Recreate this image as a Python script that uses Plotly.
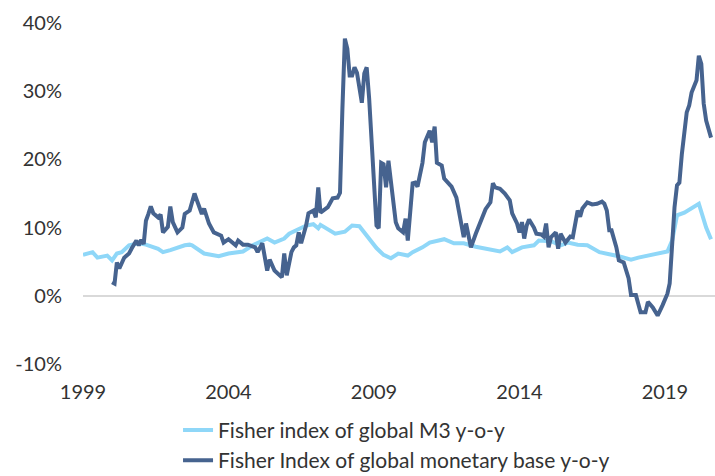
import plotly.graph_objects as go

# Fisher index of global M3 y-o-y (%)
m3_dates = ["1999-01","1999-05","1999-07","1999-11","2000-01","2000-03","2000-05","2000-08","2000-12",
    "2001-03","2001-08","2001-10","2002-01","2002-05","2002-07","2002-09","2002-10","2003-03","2003-09",
    "2004-01","2004-07","2004-11","2005-05","2005-08","2005-12","2006-02","2006-04","2006-09","2006-12",
    "2007-02","2007-03","2007-09","2008-01","2008-04","2008-07","2008-11","2009-02","2009-05","2009-08",
    "2009-11","2010-03","2010-05","2010-09","2010-12","2011-06","2011-10","2012-02","2012-07","2013-02",
    "2013-05","2013-08","2013-10","2014-02","2014-07","2014-09","2015-02","2015-06","2015-09","2016-01",
    "2016-05","2016-10","2016-12","2017-02","2017-06","2017-11","2018-02","2018-06","2018-10","2019-02",
    "2019-04","2019-06","2019-09","2019-12","2020-03","2020-06","2020-07","2020-08"]
m3_values = [6.0,6.4,5.6,5.9,5.2,6.2,6.4,7.4,7.7,
    7.5,6.9,6.4,6.7,7.2,7.4,7.5,7.4,6.2,5.8,
    6.2,6.5,7.4,8.4,7.8,8.4,9.1,9.4,10.3,10.5,
    9.9,10.4,9.1,9.4,10.3,10.2,8.4,7.0,6.0,5.5,
    6.2,5.9,6.4,7.1,7.8,8.3,7.7,7.7,7.2,6.7,
    6.5,7.1,6.4,7.1,7.4,8.1,8.0,7.4,7.8,7.5,
    7.4,6.4,6.2,6.1,5.8,5.3,5.6,5.9,6.2,6.5,
    8.1,11.8,12.2,12.8,13.5,10.0,9.1,8.3]

# Fisher Index of global monetary base y-o-y (%)
mb_dates = ["2000-01","2000-02","2000-03","2000-04","2000-06","2000-08","2000-09","2000-11","2000-12",
    "2001-01","2001-02","2001-03","2001-04","2001-05","2001-06","2001-08","2001-09","2001-10","2001-12",
    "2002-01","2002-02","2002-04","2002-06","2002-07","2002-09","2002-11","2002-12","2003-02","2003-03",
    "2003-05","2003-07","2003-10","2003-11","2004-01","2004-04","2004-05","2004-07","2004-09","2004-12",
    "2005-01","2005-03","2005-05","2005-06","2005-08","2005-11","2005-12","2006-01","2006-03","2006-04",
    "2006-05","2006-06","2006-07","2006-09","2006-10","2006-12","2007-01","2007-02","2007-03","2007-06",
    "2007-08","2007-10","2007-11","2007-12","2008-01","2008-02","2008-03","2008-04","2008-05","2008-06",
    "2008-08","2008-09","2008-10","2008-11","2009-01","2009-02","2009-03","2009-04","2009-05","2009-06",
    "2009-07","2009-08","2009-10","2009-11","2010-01","2010-02","2010-03","2010-05","2010-06","2010-07",
    "2010-09","2010-10","2010-11","2010-12","2011-01","2011-02","2011-03","2011-05","2011-06","2011-09",
    "2011-11","2011-12","2012-02","2012-03","2012-04","2012-05","2012-07","2012-09","2012-11","2013-01",
    "2013-02","2013-03","2013-05","2013-07","2013-09","2013-10","2013-12","2014-01","2014-02","2014-03",
    "2014-04","2014-05","2014-07","2014-08","2014-10","2014-11","2014-12","2015-01","2015-02","2015-04",
    "2015-05","2015-06","2015-08","2015-10","2015-11","2016-01","2016-02","2016-03","2016-05","2016-07",
    "2016-09","2016-11","2016-12","2017-01","2017-02","2017-03","2017-05","2017-06","2017-08","2017-10",
    "2017-11","2018-01","2018-03","2018-05","2018-06","2018-08","2018-10","2018-12","2019-02","2019-03",
    "2019-04","2019-05","2019-06","2019-07","2019-08","2019-10","2019-11","2019-12","2020-02","2020-03",
    "2020-04","2020-05","2020-06","2020-08"]
mb_values = [2.0,1.8,4.9,4.0,5.6,6.2,6.9,8.1,7.4,
    8.2,7.6,11.0,12.0,13.1,12.1,11.5,11.9,9.3,10.1,
    13.1,10.8,9.3,10.0,12.0,12.5,15.0,14.0,12.0,12.8,
    10.6,9.3,8.8,7.8,8.3,7.4,8.1,7.5,7.5,7.1,
    6.4,7.7,3.7,5.3,3.7,2.7,6.2,3.0,6.4,7.1,
    7.4,9.3,7.7,10.3,12.1,12.5,11.5,15.9,12.2,13.0,
    14.3,14.4,15.1,27.4,37.7,36.2,32.3,32.3,33.5,32.7,
    28.3,32.6,33.5,28.9,15.1,10.3,9.9,19.5,19.3,15.9,
    19.8,16.6,10.8,9.9,9.3,11.3,8.1,16.5,16.6,16.0,
    19.5,22.5,23.5,24.2,22.5,24.8,19.5,19.1,17.2,16.0,
    14.4,12.5,8.6,10.6,8.4,7.1,9.1,11.1,12.7,13.7,
    16.5,15.9,15.7,15.0,14.0,12.1,10.6,9.3,10.8,8.4,
    10.3,11.2,10.0,9.1,9.0,8.7,10.6,7.1,8.6,9.3,
    6.9,9.1,7.8,8.7,8.6,12.5,11.6,12.8,13.7,13.4,
    13.5,13.8,13.5,12.5,9.6,9.6,7.1,5.2,4.9,2.6,
    0.1,0.1,-2.4,-2.4,-0.9,-1.7,-2.9,-1.4,0.3,1.8,
    8.1,13.0,16.2,16.6,20.8,26.9,27.9,29.8,31.6,35.2,
    34.0,28.2,25.7,23.2]

series_names = ["Fisher index of global M3 y-o-y", "Fisher Index of global monetary base y-o-y"]
x_tick_vals = ["1999-01-01", "2004-01-01", "2009-01-01", "2014-01-01", "2019-01-01"]
x_tick_text = ["1999", "2004", "2009", "2014", "2019"]
y_tick_vals = [-10, 0, 10, 20, 30, 40]
y_tick_text = ["-10%", "0%", "10%", "20%", "30%", "40%"]

LIGHT = "#8fd7f8"
DARK = "#46638f"
TEXT = "#333333"
FONT = "Lato, 'Open Sans', sans-serif"

fig = go.Figure()
fig.add_trace(go.Scatter(x=m3_dates, y=m3_values, mode="lines", name=series_names[0],
                         line=dict(color=LIGHT, width=4)))
fig.add_trace(go.Scatter(x=mb_dates, y=mb_values, mode="lines", name=series_names[1],
                         line=dict(color=DARK, width=4)))

fig.update_layout(
    width=715, height=476,
    margin=dict(l=83, r=0, t=23, b=112, autoexpand=False),
    paper_bgcolor="white", plot_bgcolor="white",
    font=dict(family=FONT, size=20, color=TEXT),
    showlegend=True,
    legend=dict(orientation="v", xref="container", yref="container",
                x=0.249, y=0.139, xanchor="left", yanchor="top",
                font=dict(size=21, color=TEXT), bgcolor="rgba(0,0,0,0)"),
    xaxis=dict(type="date", range=["1999-01-01", "2020-09-20"],
               tickvals=x_tick_vals, ticktext=x_tick_text, tickangle=0,
               showgrid=False, showline=False, zeroline=False, ticks="",
               automargin=False,
               ticklabelstandoff=14, tickfont=dict(size=20, color=TEXT)),
    yaxis=dict(range=[-10, 40], tickvals=y_tick_vals, ticktext=y_tick_text,
               showgrid=False, showline=False, ticks="", automargin=False,
               zeroline=True, zerolinecolor="#d9d9d9", zerolinewidth=2,
               ticklabelstandoff=20, tickfont=dict(size=20, color=TEXT)),
)

fig.write_html("out.html", config={"displayModeBar": False},
               post_script="document.body.style.margin='0';")
